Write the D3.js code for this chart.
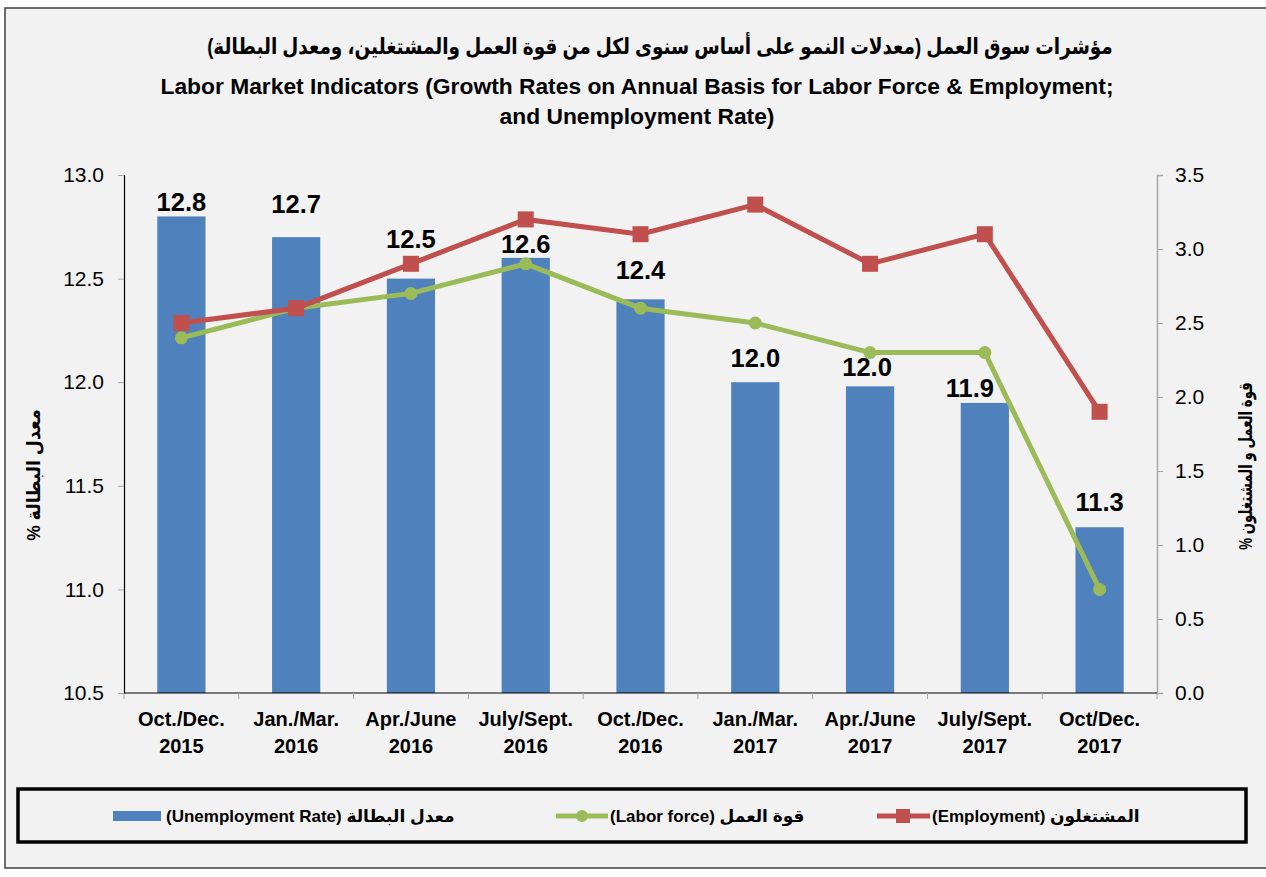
<!DOCTYPE html>
<html>
<head>
<meta charset="utf-8">
<script src="https://cdn.jsdelivr.net/npm/d3@7"></script>
<style>
  body { margin: 0; background: #ffffff; }
  svg { display: block; }
  text { font-family: "Liberation Sans", Arial, "DejaVu Sans", sans-serif; }
</style>
</head>
<body>
<svg id="chart" width="1266" height="877"></svg>
<script>
// *** Data ***

var periods = ["Oct./Dec.|2015", "Jan./Mar.|2016", "Apr./June|2016", "July/Sept.|2016", "Oct./Dec.|2016",
               "Jan./Mar.|2017", "Apr./June|2017", "July/Sept.|2017", "Oct/Dec.|2017"];
var unemploymentRate = [12.8, 12.7, 12.5, 12.6, 12.4, 12.0, 11.98, 11.9, 11.3];
var laborForce = [2.4, 2.6, 2.7, 2.9, 2.6, 2.5, 2.3, 2.3, 0.7];
var employment = [2.5, 2.6, 2.9, 3.2, 3.1, 3.3, 2.9, 3.1, 1.9];
var leftTicks = [10.5, 11.0, 11.5, 12.0, 12.5, 13.0];
var rightTicks = [0, 0.5, 1, 1.5, 2, 2.5, 3, 3.5];

// label placement tweaks (px above bar top, horizontal nudge) so labels dodge the lines
var labelGap = [5, 24, 31, 5, 20, 15, 10, 6, 16];
var labelShift = [0, 0, 0, 0, 0, 0, -3, -15, 0];

var titleAr = "مؤشرات سوق العمل (معدلات النمو على أساس سنوى لكل من قوة العمل والمشتغلين، ومعدل البطالة)";
var titleEn1 = "Labor Market Indicators (Growth Rates on Annual Basis for Labor Force & Employment;";
var titleEn2 = "and Unemployment Rate)";

var blue = "#4f81bd", red = "#c0504d", green = "#9bbb59";

// *** Chart ***

var svg = d3.select("#chart");

svg.append("rect")
    .attr("x", 5).attr("y", 8)
    .attr("width", 1270).attr("height", 860)
    .attr("fill", "#f2f2f2")
    .attr("stroke", "#404040")
    .attr("stroke-width", 1.5);

var margin = {top: 175, left: 124, right: 1157, bottom: 693};

var x = d3.scaleBand()
    .domain(periods)
    .range([margin.left, margin.right])
    .paddingInner(0.58)
    .paddingOuter(0.29);

var yLeft = d3.scaleLinear().domain([10.5, 13.0]).range([margin.bottom, margin.top]);
var yRight = d3.scaleLinear().domain([0, 3.5]).range([margin.bottom, margin.top]);

var cx = d => x(d) + x.bandwidth() / 2;

// titles (arabic font runs wide, squeeze it horizontally)
svg.append("text")
    .attr("transform", "translate(660,54) scale(0.84,1)")
    .attr("text-anchor", "middle")
    .attr("direction", "rtl")
    .style("font-size", "22px").style("font-weight", "bold")
    .text(titleAr);

svg.append("text")
    .attr("x", 637).attr("y", 94)
    .attr("text-anchor", "middle")
    .style("font-size", "22.8px").style("font-weight", "bold")
    .text(titleEn1);

svg.append("text")
    .attr("x", 637).attr("y", 124)
    .attr("text-anchor", "middle")
    .style("font-size", "22.8px").style("font-weight", "bold")
    .text(titleEn2);

// bars
svg.append("g").selectAll("rect")
    .data(periods)
    .enter().append("rect")
    .attr("x", d => x(d))
    .attr("y", (d, i) => yLeft(unemploymentRate[i]))
    .attr("width", x.bandwidth())
    .attr("height", (d, i) => yLeft(10.5) - yLeft(unemploymentRate[i]))
    .attr("fill", blue);

// axes
var leftAxis = svg.append("g")
    .attr("transform", "translate(" + margin.left + ",0)")
    .call(d3.axisLeft(yLeft).tickValues(leftTicks).tickFormat(d3.format(".1f")).tickSize(6).tickPadding(14));
leftAxis.select(".domain").attr("stroke", "#000").attr("stroke-width", 1.2);
leftAxis.selectAll(".tick line").attr("stroke", "#a6a6a6");
leftAxis.selectAll(".tick text").style("font-size", "21px").attr("fill", "#000").style("font-family", "Liberation Sans, Arial, sans-serif");

var rightAxis = svg.append("g")
    .attr("transform", "translate(" + margin.right + ",0)")
    .call(d3.axisRight(yRight).tickValues(rightTicks).tickFormat(d3.format(".1f")).tickSize(6).tickPadding(12));
rightAxis.select(".domain").attr("stroke", "#a6a6a6").attr("stroke-width", 1.5);
rightAxis.selectAll(".tick line").attr("stroke", "#a6a6a6");
rightAxis.selectAll(".tick text").style("font-size", "21px").attr("fill", "#000").style("font-family", "Liberation Sans, Arial, sans-serif");

// bottom axis line and category separators
svg.append("line")
    .attr("x1", margin.left).attr("x2", margin.right)
    .attr("y1", margin.bottom).attr("y2", margin.bottom)
    .attr("stroke", "#000").attr("stroke-width", 1.2);

var step = x.step();
svg.append("g").selectAll("line")
    .data(d3.range(periods.length + 1))
    .enter().append("line")
    .attr("x1", i => margin.left + i * step).attr("x2", i => margin.left + i * step)
    .attr("y1", margin.bottom).attr("y2", margin.bottom + 6)
    .attr("stroke", "#a6a6a6");

var catLabels = svg.append("g").selectAll("text")
    .data(periods)
    .enter().append("text")
    .attr("x", d => cx(d))
    .attr("text-anchor", "middle")
    .style("font-size", "20px").style("font-weight", "bold");
catLabels.append("tspan").attr("x", d => cx(d)).attr("y", 726).text(d => d.split("|")[0]);
catLabels.append("tspan").attr("x", d => cx(d)).attr("y", 753).text(d => d.split("|")[1]);

// axis titles
svg.append("text")
    .attr("transform", "translate(40,475) rotate(-90) scale(0.92,1)")
    .attr("text-anchor", "middle")
    .attr("direction", "rtl")
    .style("font-size", "19px").style("font-weight", "bold")
    .text("معدل البطالة %");

svg.append("text")
    .attr("transform", "translate(1252,466) rotate(-90) scale(0.7,1)")
    .attr("text-anchor", "middle")
    .attr("direction", "rtl")
    .style("font-size", "19px").style("font-weight", "bold")
    .text("قوة العمل و المشتغلون %");

// lines
var lineGen = d3.line()
    .x((d, i) => cx(periods[i]))
    .y(d => yRight(d));

svg.append("path")
    .attr("d", lineGen(laborForce))
    .attr("fill", "none").attr("stroke", green).attr("stroke-width", 5);

svg.append("g").selectAll("circle")
    .data(laborForce)
    .enter().append("circle")
    .attr("cx", (d, i) => cx(periods[i]))
    .attr("cy", d => yRight(d))
    .attr("r", 6.5)
    .attr("fill", green);

svg.append("path")
    .attr("d", lineGen(employment))
    .attr("fill", "none").attr("stroke", red).attr("stroke-width", 5);

svg.append("g").selectAll("rect")
    .data(employment)
    .enter().append("rect")
    .attr("x", (d, i) => cx(periods[i]) - 8)
    .attr("y", d => yRight(d) - 8)
    .attr("width", 16).attr("height", 16)
    .attr("fill", red);

// data labels on bars
svg.append("g").selectAll("text")
    .data(unemploymentRate)
    .enter().append("text")
    .attr("x", (d, i) => cx(periods[i]) + labelShift[i])
    .attr("y", (d, i) => yLeft(d) - labelGap[i])
    .attr("text-anchor", "middle")
    .style("font-size", "25.5px").style("font-weight", "bold")
    .text(d => d.toFixed(1));

// legend
svg.append("rect")
    .attr("x", 18).attr("y", 789)
    .attr("width", 1228).attr("height", 53)
    .attr("fill", "none")
    .attr("stroke", "#000").attr("stroke-width", 3.5);

var legY = 816;
var legend = svg.append("g");

legend.append("rect")
    .attr("x", 113).attr("y", legY - 5).attr("width", 48).attr("height", 10)
    .attr("fill", blue);
legend.append("text")
    .attr("x", 166).attr("y", legY + 6)
    .style("font-size", "17px").style("font-weight", "bold")
    .text("(Unemployment Rate) معدل البطالة");

legend.append("line")
    .attr("x1", 556).attr("x2", 608).attr("y1", legY).attr("y2", legY)
    .attr("stroke", green).attr("stroke-width", 5);
legend.append("circle")
    .attr("cx", 582).attr("cy", legY).attr("r", 6).attr("fill", green);
legend.append("text")
    .attr("x", 610).attr("y", legY + 6)
    .style("font-size", "17px").style("font-weight", "bold")
    .text("(Labor force) قوة العمل");

legend.append("line")
    .attr("x1", 877).attr("x2", 930).attr("y1", legY).attr("y2", legY)
    .attr("stroke", red).attr("stroke-width", 5);
legend.append("rect")
    .attr("x", 896).attr("y", legY - 7).attr("width", 14).attr("height", 14).attr("fill", red);
legend.append("text")
    .attr("x", 932).attr("y", legY + 6)
    .style("font-size", "17px").style("font-weight", "bold")
    .text("(Employment) المشتغلون");
</script>
</body>
</html>
